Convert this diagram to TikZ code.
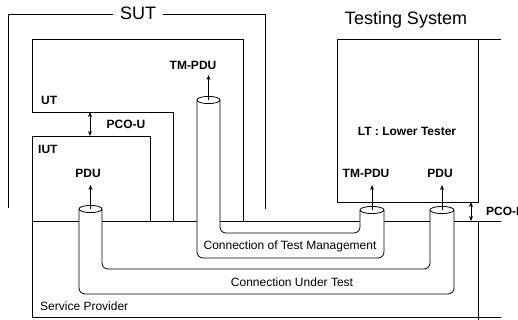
\documentclass[tikz,border=0pt]{standalone}
\usepackage{fontspec}
\setmainfont{Liberation Sans}
\usetikzlibrary{arrows.meta}
\begin{document}
\begin{tikzpicture}[x=1pt,y=-1pt,
  frame/.style={line width=0.9pt},
  tube/.style={line width=0.8pt, rounded corners=6pt},
  lid/.style={line width=0.8pt, fill=white},
  lbl/.style={font=\fontsize{12}{14}\selectfont\bfseries, inner sep=0pt},
  txt/.style={font=\fontsize{12}{14}\selectfont, inner sep=0pt},
  title/.style={font=\fontsize{18}{21}\selectfont, inner sep=0pt},
  tip/.style={-{Stealth[length=5pt,width=4pt]}, line width=0.8pt},
  pco/.style={{Stealth[length=5pt,width=4pt]}-{Stealth[length=5pt,width=4pt]}, line width=0.8pt},
]
\useasboundingbox (0,0) rectangle (518,320);
\clip (0,0) rectangle (518,320);

% SUT frame with its title
\node[title] (sut) at (138,13) {SUT};
\draw[frame] (113,14) -- (8,14) -- (8,208);
\draw[frame] (163,14) -- (265,14) -- (265,209);

% Upper tester
\draw[frame] (173,221) -- (173,112) -- (32,112) -- (32,39) -- (243,39) -- (243,221);
% IUT and service provider
\draw[frame] (150,221) -- (150,136) -- (32,136) -- (32,317) -- (501,317);
\draw[frame] (32,221) -- (501,221);
\draw[frame] (478,221) -- (478,320);

% Testing system / lower tester
\node[title] (ts) at (406,20) {Testing System};
\draw[frame] (337,202) -- (337,39) -- (501,39);
\draw[frame] (478,39) -- (478,202) -- (337,202);

% Labels
\node[lbl, anchor=west] (ut) at (41,100) {UT};
\node[lbl, anchor=west] (iut) at (38,149) {IUT};
\node[lbl] (pcou) at (126,124) {PCO-U};
\node[txt, anchor=west] (sp) at (40,306) {Service Provider};
\node[lbl] (lt) at (407,131) {LT : Lower Tester};
\node[lbl] (tmup) at (193,65) {TM-PDU};
\node[lbl] (pduL) at (88,173) {PDU};
\node[lbl] (tmR) at (366,173) {TM-PDU};
\node[lbl] (pduR) at (440,173) {PDU};
\node[lbl, anchor=west] (pcol) at (486,211) {PCO-L};

% Connection of test management (tube)
\fill[white, rounded corners=6pt] (197,100) -- (197,258) -- (384,258) -- (384,210)
  -- (360,210) -- (360,233) -- (220,233) -- (220,100) -- cycle;
\draw[tube] (197,100) -- (197,258) -- (384,258) -- (384,210);
\draw[tube] (220,100) -- (220,233) -- (360,233) -- (360,210);

% Connection under test (tube)
\fill[white, rounded corners=6pt] (79,209) -- (79,294) -- (454,294) -- (454,210)
  -- (430,210) -- (430,269) -- (102,269) -- (102,209) -- cycle;
\draw[tube] (79,209) -- (79,294) -- (454,294) -- (454,210);
\draw[tube] (102,209) -- (102,269) -- (430,269) -- (430,210);

\node[txt] (ctm) at (290,246) {Connection of Test Management};
\node[txt] (cut) at (292,282) {Connection Under Test};

% Tube openings
\coordinate (tmLtop) at (208.5,100);
\coordinate (tmRtop) at (372,210);
\coordinate (pduLtop) at (90.5,209);
\coordinate (pduRtop) at (442,210);
\draw[lid] (tmLtop) ellipse [x radius=11.5, y radius=3.6];
\draw[lid] (tmRtop) ellipse [x radius=12, y radius=3.6];
\draw[lid] (pduLtop) ellipse [x radius=11.5, y radius=3.6];
\draw[lid] (pduRtop) ellipse [x radius=12, y radius=3.6];

% PDU arrows out of the openings
\coordinate (tmLtip) at (208.5,75);
\coordinate (tmRtip) at (372,185);
\coordinate (pduLtip) at (90.5,185);
\coordinate (pduRtip) at (442,185);
\draw[tip] (tmLtop) -- (tmLtip);
\draw[tip] (tmRtop) -- (tmRtip);
\draw[tip] (pduLtop) -- (pduLtip);
\draw[tip] (pduRtop) -- (pduRtip);

% Points of control and observation
\coordinate (pcoUa) at (90,112);
\coordinate (pcoUb) at (90,136);
\coordinate (pcoLa) at (471,202);
\coordinate (pcoLb) at (471,221);
\draw[pco] (pcoUa) -- (pcoUb);
\draw[pco] (pcoLa) -- (pcoLb);
\end{tikzpicture}
\end{document}
